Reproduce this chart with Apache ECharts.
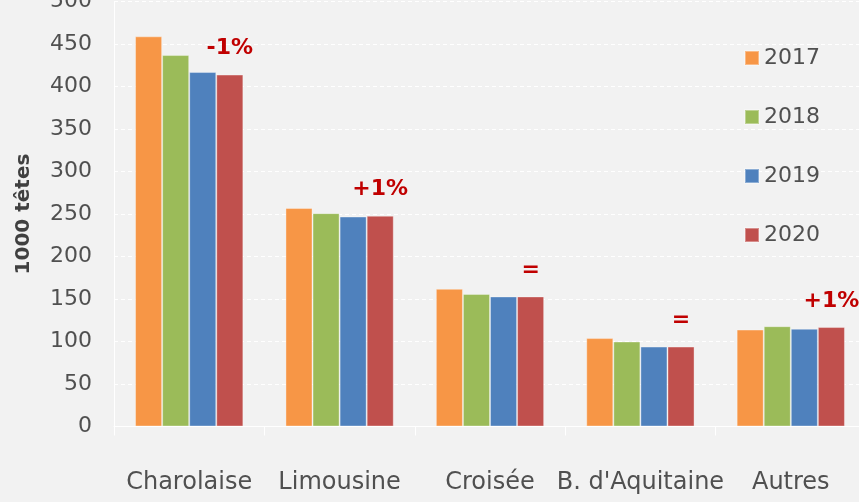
<!DOCTYPE html>
<html>
<head>
<meta charset="utf-8">
<script src="https://cdn.jsdelivr.net/npm/echarts@6/dist/echarts.min.js"></script>
<style>
  html, body { margin: 0; padding: 0; background: #f2f2f2; }
  #main { width: 859px; height: 502px; }
</style>
</head>
<body>
<div id="main"></div>
<script>
const categories = ['Charolaise', 'Limousine', 'Croisée', "B. d'Aquitaine", 'Autres'];
const years = ['2017', '2018', '2019', '2020'];
const v2017 = [459, 257, 162, 104, 114];
const v2018 = [437, 251, 156, 100, 118];
const v2019 = [417, 247, 153, 94, 115];
const v2020 = [414, 248, 153, 94, 117];
const evolution = ['-1%', '+1%', '=', '=', '+1%'];
const yTicks = [0, 50, 100, 150, 200, 250, 300, 350, 400, 450, 500];

const colors = ['#F79646', '#9BBB59', '#4F81BD', '#C0504D'];
const font = 'DejaVu Sans';
const lightFont = "'DejaVu Sans ExtraLight', 'DejaVu Sans'";

const myChart = echarts.init(document.getElementById('main'));

const seriesData = [v2017, v2018, v2019, v2020];

myChart.setOption({
  backgroundColor: '#f2f2f2',
  animation: false,
  color: colors,
  textStyle: { fontFamily: font },
  legend: {
    orient: 'vertical',
    left: 744,
    top: 45,
    padding: 0,
    itemWidth: 14,
    itemHeight: 14,
    itemGap: 33,
    icon: 'rect',
    data: years,
    textStyle: { color: '#505050', fontSize: 22, lineHeight: 26, fontFamily: lightFont }
  },
  grid: {
    top: 1.5,
    left: 114,
    right: -7,
    bottom: 75.5,
    outerBoundsMode: 'none'
  },
  xAxis: {
    type: 'category',
    data: categories,
    axisLine: { lineStyle: { color: '#ffffff', width: 1 } },
    axisTick: { show: true, length: 9, lineStyle: { color: '#ffffff' } },
    axisLabel: { interval: 0, color: '#505050', fontSize: 24, margin: 44, fontFamily: lightFont }
  },
  yAxis: {
    type: 'value',
    min: yTicks[0],
    max: yTicks[yTicks.length - 1],
    interval: 50,
    name: '1000 têtes',
    nameLocation: 'middle',
    nameGap: 80,
    nameTextStyle: { color: '#404040', fontSize: 20, fontWeight: 'bold', fontFamily: font },
    axisLine: { show: true, lineStyle: { color: '#ffffff' } },
    axisTick: { show: false },
    axisLabel: { color: '#505050', fontSize: 22, margin: 22, fontFamily: lightFont },
    splitLine: { lineStyle: { color: '#ffffff', type: [4, 3], width: 1 } }
  },
  series: seriesData.map((d, i) => ({
    name: years[i],
    type: 'bar',
    data: d,
    barGap: '0%',
    barCategoryGap: '28%',
    itemStyle: { color: colors[i], borderColor: 'rgba(255,255,255,0.35)', borderWidth: 1 },
    label: i === 3 ? {
      show: true,
      position: 'top',
      distance: 15,
      color: '#C00000',
      fontWeight: 'bold',
      fontSize: 22,
      fontFamily: font,
      formatter: p => evolution[p.dataIndex]
    } : { show: false }
  }))
});
</script>
</body>
</html>
